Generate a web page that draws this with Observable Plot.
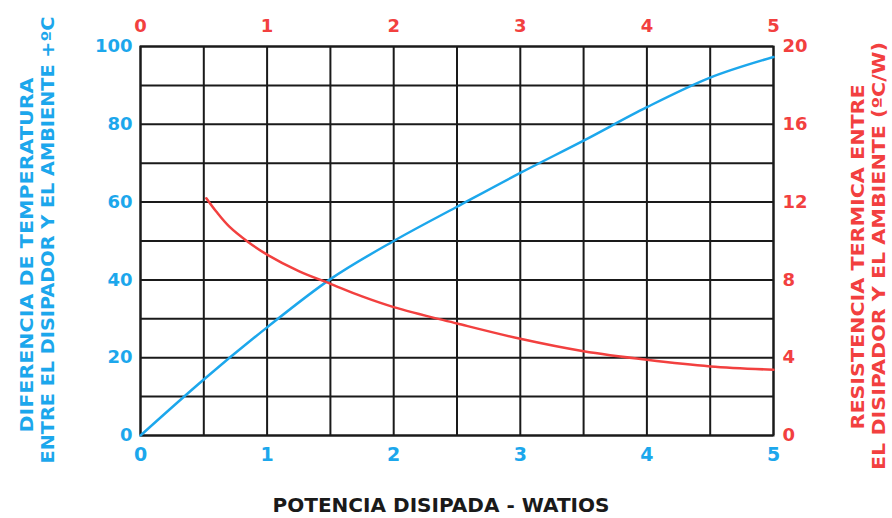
<!DOCTYPE html>
<html>
<head>
<meta charset="utf-8">
<script src="https://cdn.jsdelivr.net/npm/d3@7"></script>
<script src="https://cdn.jsdelivr.net/npm/@observablehq/plot@0.6"></script>
<style>
  html, body { margin: 0; padding: 0; background: #fff; }
  #chart svg { display: block; }
</style>
</head>
<body>
<div id="chart"></div>
<script>
// Blue curve: temperature difference (°C) vs dissipated power (W)
const powerBlue = [0, 0.5, 1, 1.5, 2, 2.5, 3, 3.5, 4, 4.5, 5];
const tempDiff  = [0, 14.4, 27.8, 40.2, 50, 58.8, 67.5, 75.8, 84.4, 92, 97.3];

// Red curve: thermal resistance (°C/W) vs dissipated power (W)
const powerRed  = [0.52, 0.6, 0.7, 0.85, 1, 1.25, 1.5, 1.75, 2, 2.5, 3, 3.5, 4, 4.5, 5];
const resist    = [12.2, 11.5, 10.75, 9.95, 9.3, 8.45, 7.8, 7.15, 6.6, 5.76, 4.97, 4.33, 3.89, 3.55, 3.38];

// Tick labels
const xTicks = [0, 1, 2, 3, 4, 5];
const yTicksLeft = [0, 20, 40, 60, 80, 100];
const yTicksRight = [0, 4, 8, 12, 16, 20];
const xGrid = [0, 0.5, 1, 1.5, 2, 2.5, 3, 3.5, 4, 4.5, 5];
const yGrid = [0, 10, 20, 30, 40, 50, 60, 70, 80, 90, 100];

const leftTitle = ["DIFERENCIA DE TEMPERATURA", "ENTRE EL DISIPADOR Y EL AMBIENTE +ºC"];
const rightTitle = ["RESISTENCIA TERMICA ENTRE", "EL DISIPADOR Y EL AMBIENTE (ºC/W)"];
const xTitle = "POTENCIA DISIPADA - WATIOS";

const BLUE = "#1ca7ec";
const RED = "#f2403f";
const ratio = 100 / 20; // right axis -> left axis

const blueData = powerBlue.map((p, i) => ({p, v: tempDiff[i]}));
const redData = powerRed.map((p, i) => ({p, v: resist[i]}));

const font = "DejaVu Sans";
const plot = Plot.plot({
  width: 892,
  height: 518,
  marginLeft: 140,
  marginRight: 119,
  marginTop: 46,
  marginBottom: 83,
  style: {fontFamily: font, background: "#fff"},
  x: {domain: [0, 5]},
  y: {domain: [0, 100]},
  marks: [
    Plot.gridX(xGrid, {stroke: "#1a1a1a", strokeOpacity: 1, strokeWidth: 2}),
    Plot.gridY(yGrid, {stroke: "#1a1a1a", strokeOpacity: 1, strokeWidth: 2}),
    Plot.frame({stroke: "#1a1a1a", strokeWidth: 2}),
    Plot.line(blueData, {x: "p", y: "v", stroke: BLUE, strokeWidth: 2.5, curve: "monotone-x"}),
    Plot.line(redData, {x: "p", y: d => d.v * ratio, stroke: RED, strokeWidth: 2.5, curve: "catmull-rom"}),
    Plot.axisX(xTicks, {anchor: "bottom", tickSize: 0, tickPadding: 12, fill: BLUE, fontSize: 19, fontWeight: "bold", label: null, tickFormat: d => String(d)}),
    Plot.axisX(xTicks, {anchor: "top", tickSize: 0, tickPadding: 15, fill: RED, fontSize: 18, fontWeight: "bold", label: null, tickFormat: d => String(d)}),
    Plot.axisY(yTicksLeft, {anchor: "left", tickSize: 0, tickPadding: 8, fill: BLUE, fontSize: 18, fontWeight: "bold", label: null, tickFormat: d => String(d)}),
    Plot.axisY(yTicksRight.map(d => d * ratio), {anchor: "right", tickSize: 0, tickPadding: 9, fill: RED, fontSize: 18, fontWeight: "bold", label: null, tickFormat: d => String(d / ratio)})
  ]
});

const svg = d3.select(plot);
function addRotated(text, bx, cy, len, color) {
  svg.append("text")
    .attr("transform", `translate(${bx},${cy}) rotate(-90)`)
    .attr("text-anchor", "middle")
    .attr("font-family", font)
    .attr("font-weight", "bold")
    .attr("font-size", 17)
    .attr("fill", color)
    .attr("textLength", len)
    .attr("lengthAdjust", "spacingAndGlyphs")
    .text(text);
}
addRotated(leftTitle[0], 33, 255, 355, BLUE);
addRotated(leftTitle[1], 54, 240, 447, BLUE);
addRotated(rightTitle[0], 864, 257, 345, RED);
addRotated(rightTitle[1], 885, 256, 428, RED);

svg.append("text")
  .attr("x", 441).attr("y", 512)
  .attr("text-anchor", "middle")
  .attr("font-family", font)
  .attr("font-weight", "bold")
  .attr("font-size", 19)
  .attr("fill", "#1a1a1a")
  .attr("textLength", 337)
  .attr("lengthAdjust", "spacingAndGlyphs")
  .text(xTitle);

document.getElementById("chart").appendChild(plot);
</script>
</body>
</html>
